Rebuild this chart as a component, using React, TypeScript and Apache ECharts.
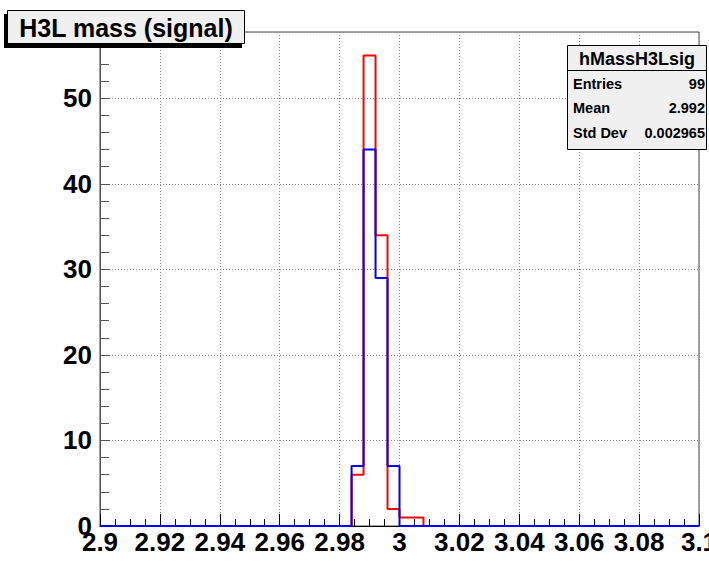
import React, { useEffect, useRef } from "react";
import * as echarts from "echarts";

// Histogram axis definition (50 bins from 2.9 to 3.1)
const X_MIN = 2.9;
const X_MAX = 3.1;
const BIN_WIDTH = 0.004;
const Y_MAX = 57.75;

// Bin contents
const redCounts = [
  0, 0, 0, 0, 0, 0, 0, 0, 0, 0,
  0, 0, 0, 0, 0, 0, 0, 0, 0, 0,
  0, 6, 55, 34, 2, 1, 1, 0, 0, 0,
  0, 0, 0, 0, 0, 0, 0, 0, 0, 0,
  0, 0, 0, 0, 0, 0, 0, 0, 0, 0,
];
const blueCounts = [
  0, 0, 0, 0, 0, 0, 0, 0, 0, 0,
  0, 0, 0, 0, 0, 0, 0, 0, 0, 0,
  0, 7, 44, 29, 7, 0, 0, 0, 0, 0,
  0, 0, 0, 0, 0, 0, 0, 0, 0, 0,
  0, 0, 0, 0, 0, 0, 0, 0, 0, 0,
];

const titleText = "H3L mass (signal)";
const statsTitle = "hMassH3Lsig";
const statsLabels = ["Entries", "Mean", "Std Dev"];
const statsValues = ["99", "2.992", "0.002965"];

const FONT = "'Liberation Sans', Arial, Helvetica, sans-serif";

function stepData(counts: number[]): [number, number][] {
  const pts: [number, number][] = counts.map((c, i) => [X_MIN + i * BIN_WIDTH, c]);
  pts.push([X_MAX, counts[counts.length - 1]]);
  return pts;
}

export default function App() {
  const ref = useRef<HTMLDivElement>(null);

  useEffect(() => {
    if (!ref.current) return;
    const chart = echarts.init(ref.current, undefined, { renderer: "svg" });

    const statsRows: any[] = [];
    statsLabels.forEach((lab, i) => {
      const y = 83.5 + i * 24.5;
      statsRows.push({
        type: "text",
        x: 573,
        y: y,
        style: {
          text: lab,
          font: `bold 14.5px ${FONT}`,
          fill: "#000",
          align: "left",
          verticalAlign: "middle",
        },
        z: 101,
      });
      statsRows.push({
        type: "text",
        x: 705,
        y: y,
        style: {
          text: statsValues[i],
          font: `bold 14.5px ${FONT}`,
          fill: "#000",
          align: "right",
          verticalAlign: "middle",
        },
        z: 101,
      });
    });

    const option: any = {
      animation: false,
      backgroundColor: "#ffffff",
      grid: {
        left: 100,
        right: 10,
        top: 32,
        bottom: 35,
        outerBoundsMode: "none",
        containLabel: false,
        show: true,
        borderColor: "#444",
        borderWidth: 1,
        backgroundColor: "#ffffff",
      },
      xAxis: {
        type: "value",
        min: X_MIN,
        max: X_MAX,
        interval: 0.02,
        axisLine: { show: true, onZero: false, lineStyle: { color: "#000", width: 1 } },
        axisTick: { show: true, inside: true, length: 12, lineStyle: { color: "#000" } },
        minorTick: { show: true, splitNumber: 4, length: 7, lineStyle: { color: "#000" } },
        splitLine: { show: true, lineStyle: { color: "#888", type: [1, 2], width: 1 } },
        axisLabel: {
          show: true,
          margin: 3,
          color: "#000",
          fontFamily: FONT,
          fontWeight: "bold",
          fontSize: 26,
          verticalAlign: "top",
          hideOverlap: false,
          formatter: (v: number) => String(Math.round(v * 1000) / 1000),
        },
      },
      yAxis: {
        type: "value",
        min: 0,
        max: Y_MAX,
        interval: 10,
        axisLine: { show: true, lineStyle: { color: "#555", width: 1 } },
        axisTick: { show: true, inside: true, length: 10, lineStyle: { color: "#555" } },
        minorTick: { show: true, splitNumber: 5, length: 9, lineStyle: { color: "#555" } },
        splitLine: { show: true, lineStyle: { color: "#888", type: [1, 2], width: 1 } },
        axisLabel: {
          show: true,
          margin: 8,
          showMaxLabel: false,
          color: "#000",
          fontFamily: FONT,
          fontWeight: "bold",
          fontSize: 26,
        },
      },
      series: [
        {
          name: "signal",
          type: "line",
          step: "end",
          symbol: "none",
          data: stepData(redCounts),
          lineStyle: { color: "#ff0000", width: 2 },
          itemStyle: { color: "#ff0000" },
          z: 3,
        },
        {
          name: "signal2",
          type: "line",
          step: "end",
          symbol: "none",
          data: stepData(blueCounts),
          lineStyle: { color: "#0000ff", width: 2 },
          itemStyle: { color: "#0000ff" },
          z: 4,
        },
      ],
      graphic: [
        // title box shadow
        {
          type: "rect",
          shape: { x: 4, y: 14, width: 238, height: 34 },
          style: { fill: "#000" },
          z: 99,
        },
        {
          type: "rect",
          shape: { x: 7.5, y: 10.5, width: 237, height: 33 },
          style: { fill: "#f0f0f0", stroke: "#000", lineWidth: 1 },
          z: 100,
        },
        {
          type: "text",
          x: 126,
          y: 27.5,
          style: {
            text: titleText,
            font: `bold 25px ${FONT}`,
            fill: "#000",
            align: "center",
            verticalAlign: "middle",
          },
          z: 101,
        },
        // stats box
        {
          type: "rect",
          shape: { x: 567.5, y: 45.5, width: 139, height: 104 },
          style: { fill: "#f0f0f0", stroke: "#000", lineWidth: 1 },
          z: 100,
        },
        {
          type: "line",
          shape: { x1: 567.5, y1: 70.5, x2: 706.5, y2: 70.5 },
          style: { stroke: "#000", lineWidth: 1 },
          z: 101,
        },
        {
          type: "text",
          x: 637,
          y: 58.5,
          style: {
            text: statsTitle,
            font: `bold 18px ${FONT}`,
            fill: "#000",
            align: "center",
            verticalAlign: "middle",
          },
          z: 101,
        },
        ...statsRows,
      ],
    };

    chart.setOption(option);
    return () => chart.dispose();
  }, []);

  return (
    <div
      ref={ref}
      style={{ position: "fixed", left: 0, top: 0, width: 709, height: 561, background: "#fff" }}
    />
  );
}
